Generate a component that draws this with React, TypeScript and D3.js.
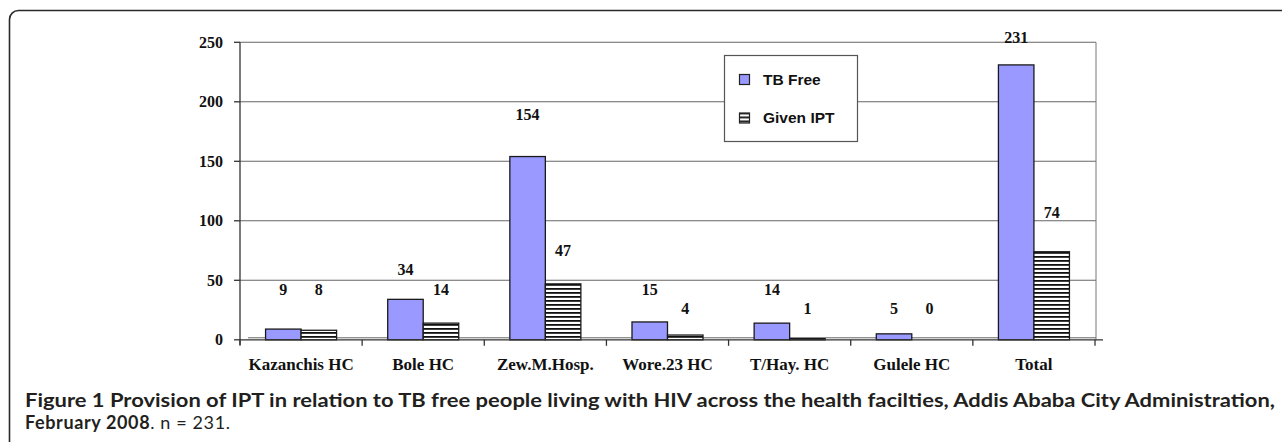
import React from "react";
import * as d3 from "d3";

// facilities on the x axis
const categories = ["Kazanchis HC", "Bole HC", "Zew.M.Hosp.", "Wore.23 HC", "T/Hay. HC", "Gulele HC", "Total"];
const seriesNames = ["TB Free", "Given IPT"];
const tbFree = [9, 34, 154, 15, 14, 5, 231];
const givenIPT = [8, 14, 47, 4, 1, 0, 74];
const tbFreeLabelAt = [42, 59, 189, 42, 42, 26, 254];
const givenIPTLabelAt = [42, 42, 75, 26, 26, 26, 107];
const yTicks = [0, 50, 100, 150, 200, 250];

const W = 1282;
const H = 442;
const serif = "'Liberation Serif', 'Times New Roman', serif";
const sans = "'Liberation Sans', Arial, sans-serif";
const captionFont = "Lato, 'Noto Sans', sans-serif";

export default function App() {
  const x = d3.scaleBand().domain(categories).range([240, 1095]).paddingInner(0).paddingOuter(0);
  const xs = d3.scaleBand().domain(seriesNames).range([0, x.bandwidth()]).paddingInner(0).paddingOuter(0.72);
  const y = d3.scaleLinear().domain([0, 250]).range([339.8, 42.3]);

  const series = [
    { name: seriesNames[0], values: tbFree, labels: tbFreeLabelAt, fill: "#9999ff" },
    { name: seriesNames[1], values: givenIPT, labels: givenIPTLabelAt, fill: "url(#hstripe)" },
  ];

  const x0 = 240;
  const x1 = 1096;
  const boundaries = categories.map((c) => x(c) as number).concat([x.range()[1]]);

  return (
    <svg width={W} height={H} style={{ position: "absolute", left: 0, top: 0 }}>
      <defs>
        <pattern id="hstripe" width="4" height="4" patternUnits="userSpaceOnUse">
          <rect width="4" height="4" fill="#fff" />
          <rect width="4" height="1.8" fill="#111" />
        </pattern>
      </defs>
      <rect x={0} y={0} width={W} height={H} fill="#fff" />
      {/* outer figure frame */}
      <rect x={9.5} y={10.5} width={W + 20} height={H + 20} rx={9} fill="none" stroke="#2a2a2a" strokeWidth={1.6} />

      {/* gridlines */}
      {yTicks.filter((t) => t > 0).map((t) => (
        <line key={t} x1={x0} x2={x1} y1={y(t)} y2={y(t)} stroke="#666" strokeWidth={1.1} />
      ))}
      <line x1={248} x2={x1} y1={y(0) - 2} y2={y(0) - 2} stroke="#666" strokeWidth={1} />
      <line x1={x1} x2={x1} y1={y(250)} y2={y(0)} stroke="#777" strokeWidth={1} />

      {/* legend */}
      <rect x={724.5} y={55.5} width={133} height={86} fill="#fff" stroke="#555" strokeWidth={1.2} />
      {series.map((s, i) => (
        <g key={s.name} transform={`translate(739,${74 + i * 38.5})`}>
          <rect x={0.5} y={0.5} width={10} height={10} fill={s.fill} stroke="#222" strokeWidth={1.2} />
          <text x={24} y={10.5} fontFamily={sans} fontWeight="bold" fontSize={15.5} fill="#111">
            {s.name}
          </text>
        </g>
      ))}

      {/* bars */}
      {series.map((s) =>
        categories.map((c, i) => {
          const bx = (x(c) as number) + (xs(s.name) as number);
          const v = s.values[i];
          if (v <= 0) return null;
          return (
            <rect
              key={s.name + c}
              x={bx}
              y={y(v)}
              width={xs.bandwidth()}
              height={y(0) - y(v)}
              fill={s.fill}
              stroke="#1a1a1a"
              strokeWidth={1.3}
            />
          );
        })
      )}

      {/* value labels */}
      {series.map((s) =>
        categories.map((c, i) => (
          <text
            key={"l" + s.name + c}
            x={(x(c) as number) + (xs(s.name) as number) + xs.bandwidth() / 2}
            y={y(s.labels[i]) + 5.5}
            textAnchor="middle"
            fontFamily={serif}
            fontWeight="bold"
            fontSize={16}
            fill="#111"
          >
            {s.values[i]}
          </text>
        ))
      )}

      {/* axes */}
      <line x1={x0} x2={x0} y1={y(250)} y2={y(0) + 5} stroke="#333" strokeWidth={1.3} />
      {yTicks.map((t) => (
        <g key={"t" + t}>
          <line x1={x0 - 6} x2={x0} y1={y(t)} y2={y(t)} stroke="#333" strokeWidth={1.3} />
          <text x={223} y={y(t) + 5.5} textAnchor="end" fontFamily={serif} fontWeight="bold" fontSize={16} fill="#111">
            {t}
          </text>
        </g>
      ))}
      <line x1={x0} x2={1103} y1={y(0)} y2={y(0)} stroke="#333" strokeWidth={1.3} />
      {boundaries.map((b, i) => (
        <line key={"b" + i} x1={b} x2={b} y1={y(0)} y2={y(0) + 6} stroke="#333" strokeWidth={1.3} />
      ))}
      {categories.map((c) => (
        <text
          key={"c" + c}
          x={(x(c) as number) + x.bandwidth() / 2}
          y={370}
          textAnchor="middle"
          fontFamily={serif}
          fontWeight="bold"
          fontSize={17}
          fill="#111"
        >
          {c}
        </text>
      ))}

      {/* caption */}
      <text x={25} y={407} fontFamily={captionFont} fontWeight="bold" fontSize={18} fill="#231f20" textLength={1250} lengthAdjust="spacingAndGlyphs">
        Figure 1 Provision of IPT in relation to TB free people living with HIV across the health facilties, Addis Ababa City Administration,
      </text>
      <text x={25} y={429} fontFamily={captionFont} fontSize={18} fill="#231f20" textLength={205} lengthAdjust="spacing">
        <tspan fontWeight="bold">February 2008</tspan>. n = 231.
      </text>
    </svg>
  );
}
